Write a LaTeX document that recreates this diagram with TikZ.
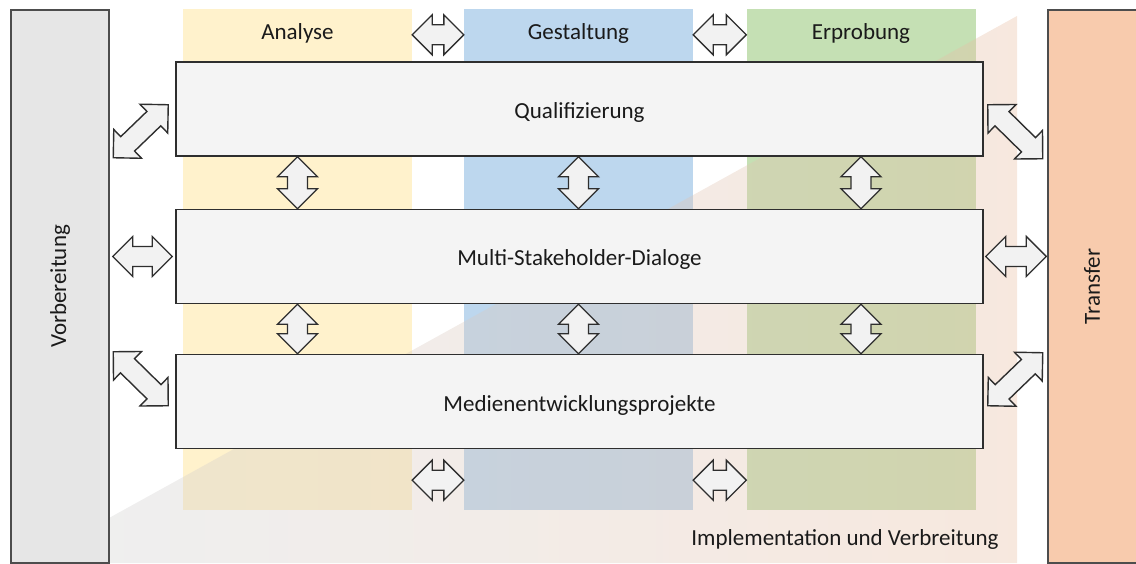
\documentclass[tikz,border=0pt]{standalone}
\usepackage{fontspec}
\setmainfont{Carlito}
\usetikzlibrary{calc}
\definecolor{colyellow}{HTML}{FFF2CC}
\definecolor{colblue}{HTML}{BDD7EE}
\definecolor{colgreen}{HTML}{C5E0B4}
\definecolor{colsalmon}{HTML}{F8CBAD}
\definecolor{colside}{HTML}{E6E6E6}
\definecolor{colmain}{HTML}{F4F4F4}
\definecolor{colarrow}{HTML}{F2F2F2}
\definecolor{colline}{HTML}{2E2E2E}
\definecolor{coltext}{HTML}{1A1A1A}
\definecolor{trigray}{HTML}{D2D2D2}
\definecolor{trisalmon}{HTML}{E8BFA4}
\newcommand{\blockarrow}[2]{%
  \coordinate (ba1) at (#1);
  \coordinate (ba2) at (#2);
  \coordinate (bh1) at ($(ba1)!20pt!(ba2)$);
  \coordinate (bh2) at ($(ba2)!20pt!(ba1)$);
  \draw[blockarr] (ba1) -- ($(bh1)!20pt!90:(ba2)$) -- ($(bh1)!10pt!90:(ba2)$)
    -- ($(bh2)!10pt!-90:(ba1)$) -- ($(bh2)!20pt!-90:(ba1)$) -- (ba2)
    -- ($(bh2)!20pt!90:(ba1)$) -- ($(bh2)!10pt!90:(ba1)$)
    -- ($(bh1)!10pt!-90:(ba2)$) -- ($(bh1)!20pt!-90:(ba2)$) -- cycle;
}
\begin{document}
\begin{tikzpicture}[x=1pt,y=-1pt,
  txt/.style={text=coltext,font=\fontsize{23pt}{27pt}\selectfont,inner sep=0pt},
  column/.style={draw=none,inner sep=0pt,minimum width=229pt,minimum height=501pt},
  mainbox/.style={draw=colline,line width=1.5pt,fill=colmain,inner sep=0pt,minimum width=807pt,minimum height=94pt,text=coltext,font=\fontsize{23pt}{27pt}\selectfont,text height=22pt,text depth=3pt},
  sidebox/.style={draw=colline!85,line width=1.5pt,inner sep=0pt,minimum height=553pt},
  blockarr/.style={draw=colline,fill=colarrow,line width=1.4pt,line join=miter}]
\useasboundingbox (0,0) rectangle (1136,564);
% columns
\node[column,fill=colyellow] (colA) at (297.5,259.5) {};
\node[column,fill=colblue] (colG) at (578.5,259.5) {};
\node[column,fill=colgreen] (colE) at (861,259.5) {};
% triangle overlay
\shade[left color=trigray,right color=trisalmon,fill opacity=0.36]
  (100,523) -- (1017,16) -- (1017,563) -- (100,563) -- cycle;
% side boxes
\node[sidebox,fill=colside,minimum width=98pt] (vor) at (60,286.5) {};
\node[sidebox,fill=colsalmon,minimum width=92pt] (tra) at (1094,286.5) {};
\node[txt,rotate=90] (vorlab) at (vor.center) {Vorbereitung};
\node[txt,rotate=90] (tralab) at (1092,286.5) {Transfer};
% main boxes
\node[mainbox] (q) at (579.5,109) {Qualifizierung};
\node[mainbox] (m) at (579.5,256.5) {Multi-Stakeholder-Dialoge};
\node[mainbox] (med) at (579.5,401.5) {Medienentwicklungsprojekte};
% vertical arrows
\foreach \c in {colA,colG,colE}{
  \blockarrow{q.south -| \c.center}{m.north -| \c.center}
  \blockarrow{m.south -| \c.center}{med.north -| \c.center}
}
% horizontal arrows between columns
\blockarrow{[yshift=-26pt]colA.north east}{[yshift=-26pt]colG.north west}
\blockarrow{[yshift=-26pt]colG.north east}{[yshift=-26pt]colE.north west}
\blockarrow{[yshift=30pt]colA.south east}{[yshift=30pt]colG.south west}
\blockarrow{[yshift=30pt]colG.south east}{[yshift=30pt]colE.south west}
% side horizontal arrows
\blockarrow{[xshift=3pt]vor.east |- m.west}{[xshift=-3pt]m.west}
\blockarrow{[xshift=2pt]m.east}{[xshift=-1pt]tra.west |- m.east}
% diagonal arrows
\blockarrow{$(q.south west)+(-62,1)$}{$(q.south west)+(-7,-52)$}
\blockarrow{$(q.south east)+(4,-52)$}{$(q.south east)+(59,2)$}
\blockarrow{$(med.north west)+(-62,-2)$}{$(med.north west)+(-7,52)$}
\blockarrow{$(med.north east)+(4,52)$}{$(med.north east)+(59,-1)$}
% headers
\node[txt] (hA) at (297.5,33) {Analyse};
\node[txt] (hG) at (578.5,33) {Gestaltung};
\node[txt] (hE) at (861,33) {Erprobung};
\node[txt] (impl) at (845,539) {Implementation und Verbreitung};
\end{tikzpicture}
\end{document}
